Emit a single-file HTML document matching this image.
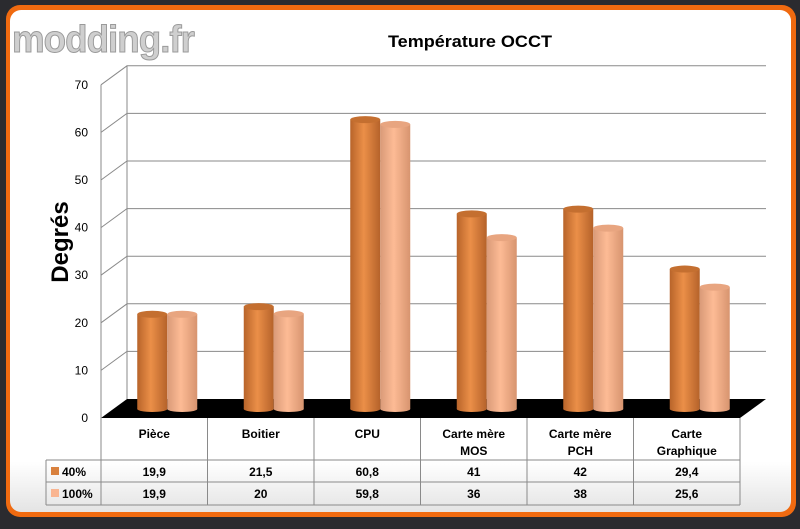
<!DOCTYPE html>
<html><head><meta charset="utf-8"><style>
html,body{margin:0;padding:0;background:#2b2b2f;}
body{width:800px;height:524px;overflow:hidden;font-family:"Liberation Sans",sans-serif;}
</style></head><body>
<svg id="chart" width="800" height="524" xmlns="http://www.w3.org/2000/svg">
<defs>
<linearGradient id="g1" x1="0" x2="1"><stop offset="0" stop-color="#b8642a"/><stop offset="0.45" stop-color="#eb8f48"/><stop offset="1" stop-color="#b5622a"/></linearGradient>
<linearGradient id="g2" x1="0" x2="1"><stop offset="0" stop-color="#d99a78"/><stop offset="0.45" stop-color="#fdbb95"/><stop offset="1" stop-color="#d7946f"/></linearGradient>
<linearGradient id="shade" x1="0" y1="0" x2="0" y2="1"><stop offset="0" stop-color="#ffffff"/><stop offset="0.9" stop-color="#ffffff"/><stop offset="1" stop-color="#e4e4e4"/></linearGradient>
</defs>
<rect x="0" y="0" width="800" height="524" fill="#2b2b2f"/>
<rect x="6" y="5" width="790" height="512" rx="14" fill="#f06a10"/>
<rect x="10" y="10" width="781" height="502" rx="11" fill="url(#shade)"/>
<text x="12" y="52" font-size="38" font-weight="bold" fill="#cfcfcf" stroke="#9a9a9a" stroke-width="1" letter-spacing="-1" textLength="182" lengthAdjust="spacingAndGlyphs">modding.fr</text>
<text x="470" y="47" font-size="17" font-weight="bold" text-anchor="middle" fill="#000" textLength="164" lengthAdjust="spacingAndGlyphs">Température OCCT</text>
<text transform="translate(68,242) rotate(-90)" font-size="24" font-weight="bold" text-anchor="middle" fill="#000">Degrés</text>
<g id="grid"></g>
<g id="bars"></g>
<g id="table"></g>
</svg>
<script>
const categories=["Pièce","Boitier","CPU","Carte mère|MOS","Carte mère|PCH","Carte|Graphique"];
const series40=[19.9,21.5,60.8,41,42,29.4];
const series100=[19.9,20,59.8,36,38,25.6];
const seriesNames=["40%","100%"];
const labels40=["19,9","21,5","60,8","41","42","29,4"];
const labels100=["19,9","20","59,8","36","38","25,6"];
const yTicks=[0,10,20,30,40,50,60,70];

const NS="http://www.w3.org/2000/svg";
const x0=101,x1=740,dx=26,dy=19,yBase=418,pxPer=47.6/10;
const y=v=>yBase-v*pxPer;
function el(tag,attrs,parent,txt){const e=document.createElementNS(NS,tag);for(const k in attrs)e.setAttribute(k,attrs[k]);if(txt!=null)e.textContent=txt;parent.appendChild(e);return e;}
const grid=document.getElementById('grid'),bars=document.getElementById('bars'),table=document.getElementById('table');
const floor=el('polygon',{points:`${x0},${yBase} ${x1},${yBase} ${x1+dx},${yBase-dy} ${x0+dx},${yBase-dy}`,fill:'#000'},grid);

yTicks.forEach(t=>{
  const yy=y(t);
  if(t>0){
    const g=el('polyline',{points:`${x0},${yy} ${x0+dx},${yy-dy} ${x1+dx},${yy-dy}`,fill:'none',stroke:'#8a8a8a','stroke-width':1},grid);
    
  }
  const lb=el('text',{x:88,y:yy+4,'font-size':12,'text-anchor':'end',fill:'#000'},grid,String(t));
  
});
const ax=el('line',{x1:x0,y1:yBase,x2:x0,y2:y(70),stroke:'#8a8a8a'},grid);

const ax2=el('line',{x1:x0+dx,y1:yBase-dy,x2:x0+dx,y2:y(70)-dy,stroke:'#8a8a8a'},grid);

const colW=(x1-x0)/categories.length,bw=30,barBase=409;
function cyl(cx,v,fill,top,name){
  const g=el('g',{},bars);
  
  const yt=barBase-v*pxPer;
  el('rect',{x:cx-bw/2,y:yt,width:bw,height:barBase-yt,fill:fill},g);
  el('ellipse',{cx:cx,cy:barBase,rx:bw/2,ry:3,fill:fill},g);
  el('ellipse',{cx:cx,cy:yt,rx:bw/2,ry:3.5,fill:top},g);
}
categories.forEach((c,i)=>{
  const cx=x0+colW*i+colW/2+13;
  cyl(cx-15,series40[i],'url(#g1)','#c46f30','bar-40-'+i);
  cyl(cx+15,series100[i],'url(#g2)','#e8a580','bar-100-'+i);
});
const tTop=418,r1=460,r2=482,r3=505,tl=46;
function ln(a,b,c,d){const l=el('line',{x1:a,y1:b,x2:c,y2:d,stroke:'#8a8a8a'},table);}
for(let i=0;i<=categories.length;i++){ln(x0+colW*i,tTop,x0+colW*i,r3);}
ln(tl,r1,tl,r3);ln(tl,r1,x1,r1);ln(tl,r2,x1,r2);ln(tl,r3,x1,r3);
categories.forEach((c,i)=>{
  const cx=x0+colW*i+colW/2;
  const parts=c.split('|');
  parts.forEach((p,j)=>{
    const t=el('text',{x:cx,y:(parts.length>1?tTop+20+j*17:tTop+20),'font-size':12,'font-weight':'bold','text-anchor':'middle',fill:'#000'},table,p);
    
  });
  const a=el('text',{x:cx,y:r1+16,'font-size':12,'font-weight':'bold','text-anchor':'middle'},table,labels40[i]);
  
  const b=el('text',{x:cx,y:r2+16,'font-size':12,'font-weight':'bold','text-anchor':'middle'},table,labels100[i]);
  
});
[[r1,'#d9813e'],[r2,'#f9b591']].forEach((r,k)=>{
  const s=el('rect',{x:51,y:r[0]+7,width:8,height:8,fill:r[1]},table);
  
  const t=el('text',{x:62,y:r[0]+16,'font-size':12,'font-weight':'bold'},table,seriesNames[k]);
  
});
</script>
</body></html>
